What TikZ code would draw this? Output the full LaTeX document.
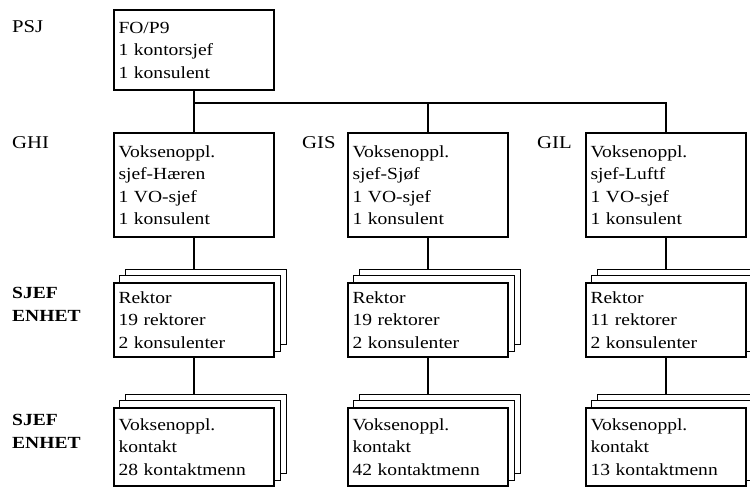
\documentclass[tikz,border=0pt]{standalone}
\usepackage{fontspec}
\setmainfont{Liberation Serif}[FakeStretch=1.15]
\usetikzlibrary{backgrounds}

\begin{document}
\begin{tikzpicture}[x=1pt,y=-1pt,
  box/.style={draw, line width=1.5pt, fill=white, align=left,
    text width=151pt, inner xsep=4.5pt, inner ysep=0pt, minimum width=160pt,
    font=\fontsize{17}{22.5}\selectfont},
  sheet/.style={draw, line width=1.4pt, fill=white},
  lbl/.style={anchor=west, inner sep=0pt, font=\fontsize{18}{22}\selectfont},
  lblb/.style={lbl, align=left, font=\fontsize{17}{23}\selectfont\bfseries},
  wire/.style={line width=1.5pt}]
\useasboundingbox (0,0) rectangle (750,487);

% two sheets stacked behind a unit box
\newcommand\stacksheets[1]{%
  \foreach \k in {2,1}
    \draw[sheet] ([shift={(6*\k,-6.5*\k)}]#1.south west) rectangle ([shift={(6*\k,-6.5*\k)}]#1.north east);}

% row labels
\node[lbl] (psj) at (12,27) {PSJ};
\node[lbl] (ghi) at (12,143) {GHI};
\node[lbl] (gis) at (302,143) {GIS};
\node[lbl] (gil) at (537,143) {GIL};
\node[lblb] (sj3) at (12,304) {SJEF\\ENHET};
\node[lblb] (sj4) at (12,431) {SJEF\\ENHET};

% top
\node[box, minimum height=80pt] (top) at (194,50) {FO/P9\\1 kontorsjef\\1 konsulent};

% branch heads
\node[box, minimum height=104pt] (h1) at (194,185) {Voksenoppl.\\sjef-H\ae ren\\1 VO-sjef\\1 konsulent};
\node[box, minimum height=104pt] (h2) at (428,185) {Voksenoppl.\\sjef-Sj\o f\\1 VO-sjef\\1 konsulent};
\node[box, minimum height=104pt] (h3) at (666,185) {Voksenoppl.\\sjef-Luftf\\1 VO-sjef\\1 konsulent};

% rectors
\node[box, minimum height=74pt] (r1) at (194,320) {Rektor\\19 rektorer\\2 konsulenter};
\node[box, minimum height=74pt] (r2) at (428,320) {Rektor\\19 rektorer\\2 konsulenter};
\node[box, minimum height=74pt] (r3) at (666,320) {Rektor\\11 rektorer\\2 konsulenter};

% contacts
\node[box, minimum height=78pt] (k1) at (194,447) {Voksenoppl.\\kontakt\\28 kontaktmenn};
\node[box, minimum height=78pt] (k2) at (428,447) {Voksenoppl.\\kontakt\\42 kontaktmenn};
\node[box, minimum height=78pt] (k3) at (666,447) {Voksenoppl.\\kontakt\\13 kontaktmenn};

\coordinate (bus) at (0,103);

\begin{scope}[on background layer]
  \draw[wire] (top.south) -- (h1.north);
  \draw[wire] (top.south |- bus) -| (h2.north);
  \draw[wire] (top.south |- bus) -| (h3.north);
  \foreach \i in {1,2,3} {
    \draw[wire] (h\i.south) -- (r\i.north);
    \draw[wire] (r\i.south) -- (k\i.north);
  }
  \foreach \n in {r1,r2,r3,k1,k2,k3} { \stacksheets{\n} }
\end{scope}
\end{tikzpicture}
\end{document}
